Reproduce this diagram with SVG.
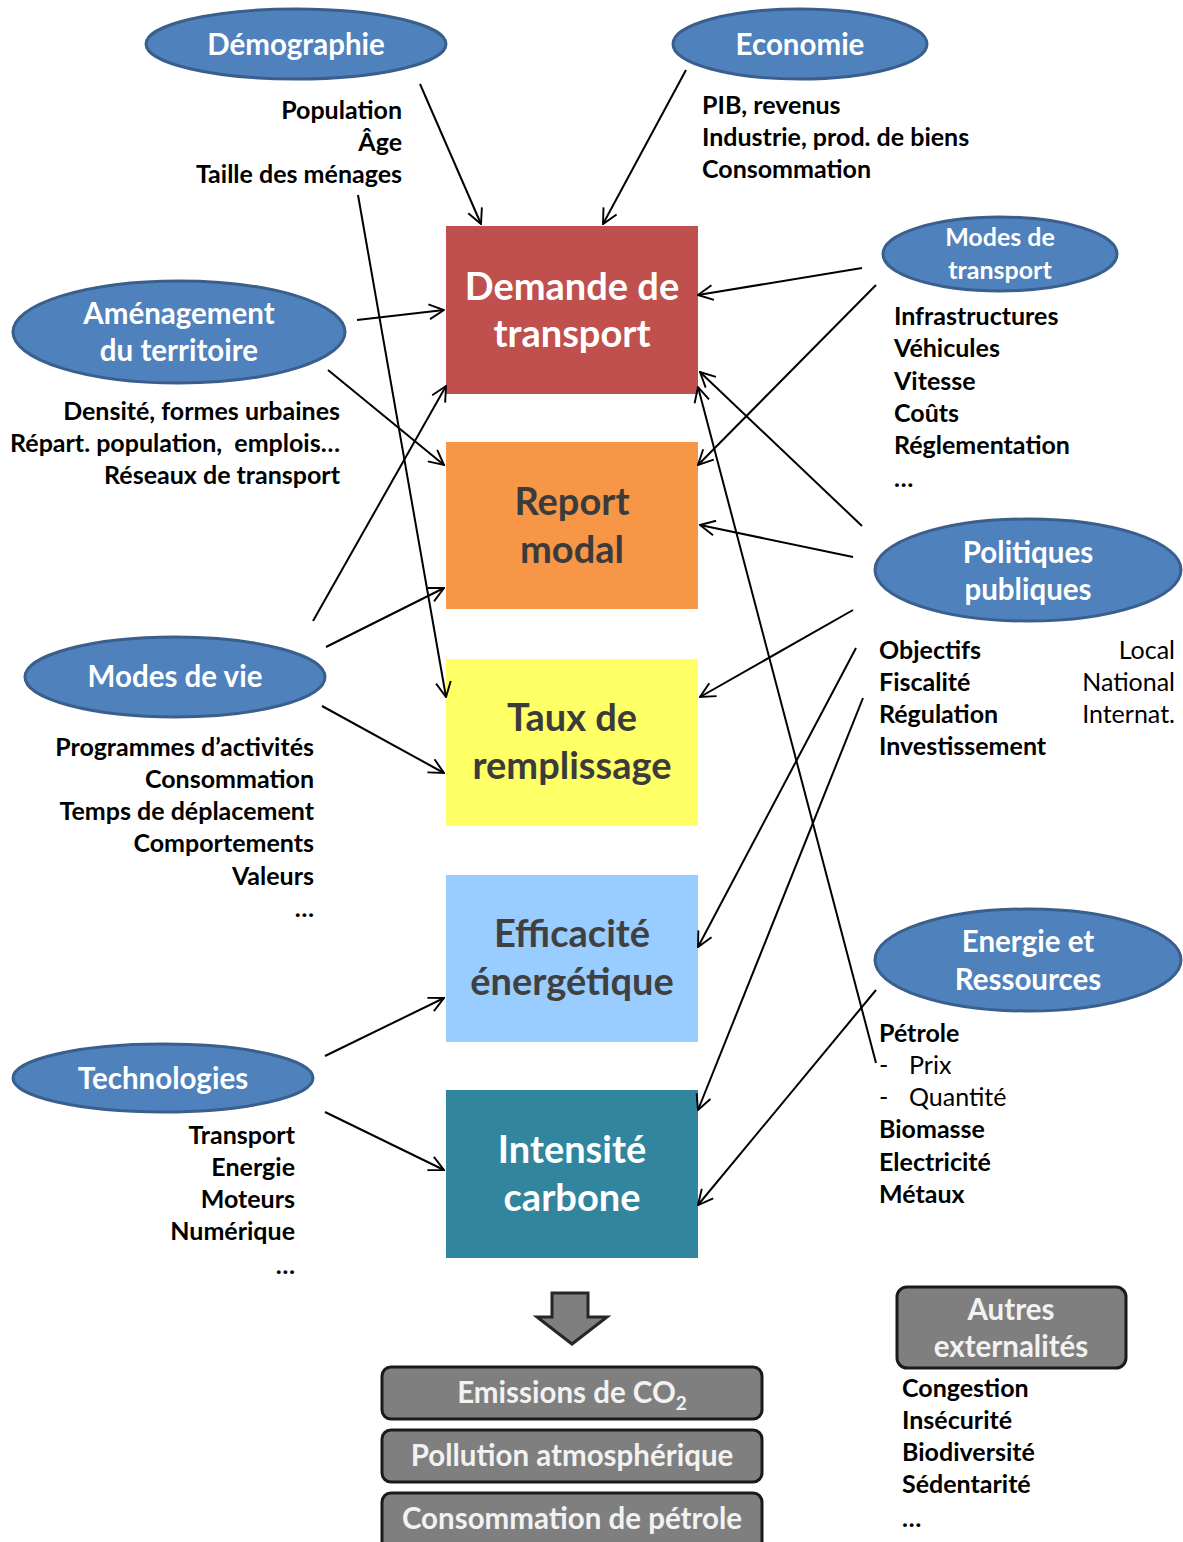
<svg xmlns="http://www.w3.org/2000/svg" width="1183" height="1542" viewBox="0 0 1183 1542">
<defs>
<marker id="ah" viewBox="0 0 16 16" refX="15" refY="8" markerWidth="17" markerHeight="17" markerUnits="userSpaceOnUse" orient="auto">
<path d="M1,1 L15,8 L1,15" fill="none" stroke="#000" stroke-width="1.8"/>
</marker>
<style>
.ell{fill:#4F81BD;stroke:#3A5F8C;stroke-width:3}
.et{font-family:Lato,"Open Sans",sans-serif;font-weight:bold;fill:#fff;text-anchor:middle}
.bt{font-family:Lato,"Open Sans",sans-serif;font-weight:bold;font-size:38px;text-anchor:middle}
.st{font-family:Lato,"Open Sans",sans-serif;font-weight:bold;font-size:25px;fill:#000}
.rt{font-family:Lato,"Open Sans",sans-serif;font-weight:normal;font-size:25px;fill:#000}
.r{text-anchor:end}
.gb{fill:#7F7F7F;stroke:#1A1A1A;stroke-width:3}
.gt{font-family:Lato,"Open Sans",sans-serif;font-weight:bold;font-size:29.5px;fill:#F2F2F2;text-anchor:middle}
.cn line{stroke:#000;stroke-width:2;marker-end:url(#ah)}
</style>
</defs>
<rect width="1183" height="1542" fill="#fff"/>

<g id="box-demande">
<rect x="446" y="226" width="252" height="168" fill="#C0504D"/>
<text class="bt" x="572" y="300" fill="#fff">Demande de</text>
<text class="bt" x="572" y="347" fill="#fff">transport</text>
</g>
<g id="box-report">
<rect x="446" y="442" width="252" height="167" fill="#F79646"/>
<text class="bt" x="572" y="515" fill="#3B3B3B">Report</text>
<text class="bt" x="572" y="563" fill="#3B3B3B">modal</text>
</g>
<g id="box-taux">
<rect x="446" y="659" width="252" height="167" fill="#FFFF66"/>
<text class="bt" x="572" y="731" fill="#3B3B3B">Taux de</text>
<text class="bt" x="572" y="779" fill="#3B3B3B">remplissage</text>
</g>
<g id="box-efficacite">
<rect x="446" y="875" width="252" height="167" fill="#99CCFF"/>
<text class="bt" x="572" y="947" fill="#404040">Efficacité</text>
<text class="bt" x="572" y="995" fill="#404040">énergétique</text>
</g>
<g id="box-intensite">
<rect x="446" y="1090" width="252" height="168" fill="#31859C"/>
<text class="bt" x="572" y="1163" fill="#fff">Intensité</text>
<text class="bt" x="572" y="1211" fill="#fff">carbone</text>
</g>

<g id="node-demographie">
<ellipse class="ell" cx="296" cy="44" rx="150" ry="35"/>
<text class="et" x="296" y="55" font-size="29.5">Démographie</text>
<text class="st r" x="402" y="119">Population</text>
<text class="st r" x="402" y="151">Âge</text>
<text class="st r" x="402" y="183">Taille des ménages</text>
</g>
<g id="node-economie">
<ellipse class="ell" cx="800" cy="44" rx="127" ry="35"/>
<text class="et" x="800" y="55" font-size="29.5">Economie</text>
<text class="st" x="702" y="114">PIB, revenus</text>
<text class="st" x="702" y="146">Industrie, prod. de biens</text>
<text class="st" x="702" y="178">Consommation</text>
</g>
<g id="node-amenagement">
<ellipse class="ell" cx="179" cy="332" rx="166" ry="51"/>
<text class="et" x="179" y="324" font-size="29.5">Aménagement</text>
<text class="et" x="179" y="361" font-size="29.5">du territoire</text>
<text class="st r" x="340" y="420">Densité, formes urbaines</text>
<text class="st r" x="340" y="452" xml:space="preserve">Répart. population,  emplois…</text>
<text class="st r" x="340" y="484">Réseaux de transport</text>
</g>
<g id="node-modes-transport">
<ellipse class="ell" cx="1000" cy="254" rx="117" ry="37"/>
<text class="et" x="1000" y="246" font-size="25">Modes de</text>
<text class="et" x="1000" y="279" font-size="25">transport</text>
<text class="st" x="894" y="325">Infrastructures</text>
<text class="st" x="894" y="357">Véhicules</text>
<text class="st" x="894" y="390">Vitesse</text>
<text class="st" x="894" y="422">Coûts</text>
<text class="st" x="894" y="454">Réglementation</text>
<text class="st" x="894" y="487">…</text>
</g>
<g id="node-politiques">
<ellipse class="ell" cx="1028" cy="570" rx="153" ry="51"/>
<text class="et" x="1028" y="563" font-size="29.5">Politiques</text>
<text class="et" x="1028" y="600" font-size="29.5">publiques</text>
<text class="st" x="879" y="659">Objectifs</text>
<text class="st" x="879" y="691">Fiscalité</text>
<text class="st" x="879" y="723">Régulation</text>
<text class="st" x="879" y="755">Investissement</text>
<text class="rt r" x="1175" y="659">Local</text>
<text class="rt r" x="1175" y="691">National</text>
<text class="rt r" x="1175" y="723">Internat.</text>
</g>
<g id="node-modes-vie">
<ellipse class="ell" cx="175" cy="677" rx="150" ry="40"/>
<text class="et" x="175" y="687" font-size="29.5">Modes de vie</text>
<text class="st r" x="314" y="756">Programmes d’activités</text>
<text class="st r" x="314" y="788">Consommation</text>
<text class="st r" x="314" y="820">Temps de déplacement</text>
<text class="st r" x="314" y="852">Comportements</text>
<text class="st r" x="314" y="885">Valeurs</text>
<text class="st r" x="314" y="917">…</text>
</g>
<g id="node-energie">
<ellipse class="ell" cx="1028" cy="960" rx="153" ry="51"/>
<text class="et" x="1028" y="952" font-size="29.5">Energie et</text>
<text class="et" x="1028" y="990" font-size="29.5">Ressources</text>
<text class="st" x="879" y="1042">Pétrole</text>
<text class="rt" x="879" y="1074">-</text>
<text class="rt" x="909" y="1074">Prix</text>
<text class="rt" x="879" y="1106">-</text>
<text class="rt" x="909" y="1106">Quantité</text>
<text class="st" x="879" y="1138">Biomasse</text>
<text class="st" x="879" y="1171">Electricité</text>
<text class="st" x="879" y="1203">Métaux</text>
</g>
<g id="node-technologies">
<ellipse class="ell" cx="163" cy="1078" rx="150" ry="34"/>
<text class="et" x="163" y="1089" font-size="29.5">Technologies</text>
<text class="st r" x="295" y="1144">Transport</text>
<text class="st r" x="295" y="1176">Energie</text>
<text class="st r" x="295" y="1208">Moteurs</text>
<text class="st r" x="295" y="1240">Numérique</text>
<text class="st r" x="295" y="1274">…</text>
</g>

<g id="big-arrow">
<path d="M552,1293 L588,1293 L588,1317 L607,1317 L572,1344 L537,1317 L552,1317 Z" fill="#7F7F7F" stroke="#262626" stroke-width="3" stroke-linejoin="miter"/>
</g>
<g id="box-emissions">
<rect class="gb" x="382" y="1367" width="380" height="52" rx="9"/>
<text class="gt" x="572" y="1403">Emissions de CO<tspan font-size="19" dy="7">2</tspan></text>
</g>
<g id="box-pollution">
<rect class="gb" x="382" y="1430" width="380" height="52" rx="9"/>
<text class="gt" x="572" y="1466">Pollution atmosphérique</text>
</g>
<g id="box-petrole">
<rect class="gb" x="382" y="1493" width="380" height="60" rx="9"/>
<text class="gt" x="572" y="1529">Consommation de pétrole</text>
</g>
<g id="box-autres">
<rect class="gb" x="897" y="1287" width="229" height="81" rx="10"/>
<text class="gt" x="1011" y="1320">Autres</text>
<text class="gt" x="1011" y="1357">externalités</text>
<text class="st" x="902" y="1397">Congestion</text>
<text class="st" x="902" y="1429">Insécurité</text>
<text class="st" x="902" y="1461">Biodiversité</text>
<text class="st" x="902" y="1493">Sédentarité</text>
<text class="st" x="902" y="1527">…</text>
</g>

<g id="connectors" class="cn">
<line x1="420" y1="84" x2="481" y2="224"/>
<line x1="686" y1="70" x2="603" y2="224"/>
<line x1="358" y1="195" x2="446" y2="697"/>
<line x1="357" y1="320" x2="444" y2="310"/>
<line x1="328" y1="370" x2="444" y2="465"/>
<line x1="313" y1="621" x2="446" y2="386"/>
<line x1="326" y1="647" x2="444" y2="588"/>
<line x1="322" y1="706" x2="444" y2="773"/>
<line x1="862" y1="268" x2="698" y2="295"/>
<line x1="876" y1="285" x2="698" y2="465"/>
<line x1="862" y1="526" x2="700" y2="372"/>
<line x1="853" y1="557" x2="700" y2="525"/>
<line x1="853" y1="610" x2="700" y2="697"/>
<line x1="856" y1="648" x2="698" y2="947"/>
<line x1="863" y1="698" x2="698" y2="1110"/>
<line x1="876" y1="1063" x2="698" y2="387"/>
<line x1="876" y1="990" x2="698" y2="1205"/>
<line x1="325" y1="1056" x2="444" y2="998"/>
<line x1="325" y1="1112" x2="444" y2="1170"/>
</g>
</svg>
